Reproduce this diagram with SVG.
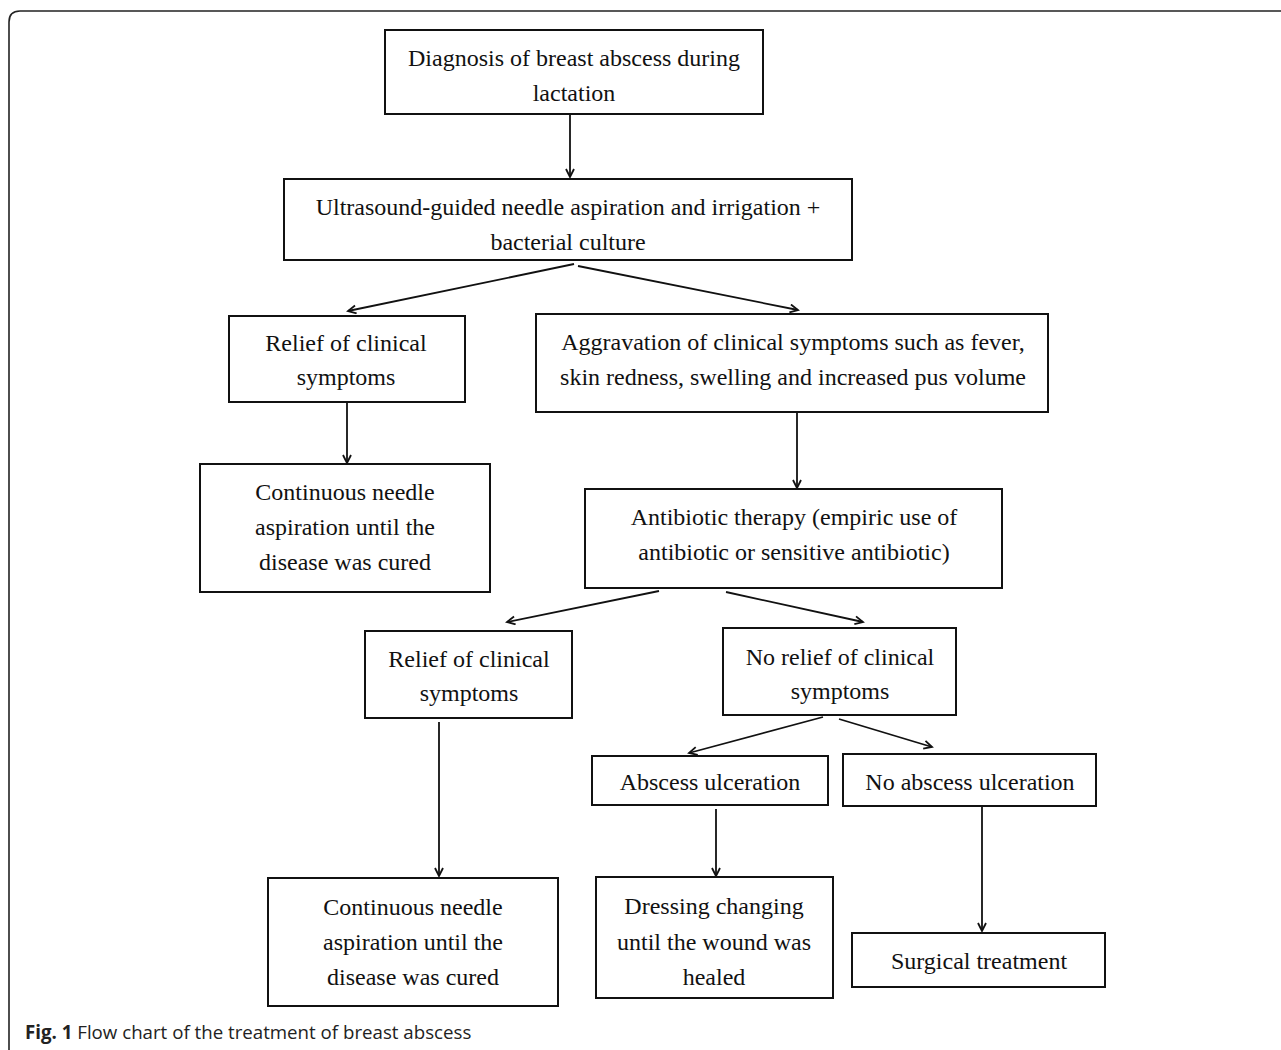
<svg xmlns="http://www.w3.org/2000/svg" width="1281" height="1050" viewBox="0 0 1281 1050">
<defs>
<style>
.box{fill:#fff;stroke:#111;stroke-width:2}
.t{font-family:"Liberation Serif","Times New Roman",serif;font-size:24px;fill:#111;text-anchor:middle}
.c{stroke:#111;stroke-width:1.8;fill:none;marker-end:url(#ah)}
.cap{font-family:"Open Sans","Noto Sans",sans-serif;font-size:18.7px;fill:#222}
</style>
<marker id="ah" markerUnits="userSpaceOnUse" markerWidth="12" markerHeight="12" refX="9" refY="5" orient="auto">
<path d="M1,1 L9,5 L1,9" fill="none" stroke="#111" stroke-width="1.8"/>
</marker>
</defs>
<rect width="1281" height="1050" fill="#fff"/>
<path d="M9,1050 L9,22 Q9,11 20,11 L1281,11" fill="none" stroke="#222" stroke-width="1.6"/>
<g id="connectors">
<line class="c" x1="570" y1="115" x2="570" y2="177"/>
<line class="c" x1="574" y1="264" x2="348" y2="311"/>
<line class="c" x1="578" y1="266" x2="798" y2="310"/>
<line class="c" x1="347" y1="403" x2="347" y2="463"/>
<line class="c" x1="797" y1="413" x2="797" y2="488"/>
<line class="c" x1="659" y1="591" x2="507" y2="622"/>
<line class="c" x1="726" y1="592" x2="863" y2="622"/>
<line class="c" x1="439" y1="722" x2="439" y2="876"/>
<line class="c" x1="823" y1="717" x2="689" y2="753"/>
<line class="c" x1="839" y1="719" x2="932" y2="747"/>
<line class="c" x1="716" y1="809" x2="716" y2="876"/>
<line class="c" x1="982" y1="807" x2="982" y2="931"/>
</g>
<g id="n1"><rect class="box" x="385" y="30" width="378" height="84"/>
<text class="t" x="574" y="66">Diagnosis of breast abscess during</text>
<text class="t" x="574" y="101">lactation</text></g>
<g id="n2"><rect class="box" x="284" y="179" width="568" height="81"/>
<text class="t" x="568" y="215">Ultrasound-guided needle aspiration and irrigation +</text>
<text class="t" x="568" y="250">bacterial culture</text></g>
<g id="n3"><rect class="box" x="229" y="316" width="236" height="86"/>
<text class="t" x="346" y="351">Relief of clinical</text>
<text class="t" x="346" y="385">symptoms</text></g>
<g id="n4"><rect class="box" x="536" y="314" width="512" height="98"/>
<text class="t" x="793" y="350">Aggravation of clinical symptoms such as fever,</text>
<text class="t" x="793" y="385">skin redness, swelling and increased pus volume</text></g>
<g id="n5"><rect class="box" x="200" y="464" width="290" height="128"/>
<text class="t" x="345" y="500">Continuous needle</text>
<text class="t" x="345" y="535">aspiration until the</text>
<text class="t" x="345" y="570">disease was cured</text></g>
<g id="n6"><rect class="box" x="585" y="489" width="417" height="99"/>
<text class="t" x="794" y="525">Antibiotic therapy (empiric use of</text>
<text class="t" x="794" y="560">antibiotic or sensitive antibiotic)</text></g>
<g id="n7"><rect class="box" x="365" y="631" width="207" height="87"/>
<text class="t" x="469" y="667">Relief of clinical</text>
<text class="t" x="469" y="701">symptoms</text></g>
<g id="n8"><rect class="box" x="723" y="628" width="233" height="87"/>
<text class="t" x="840" y="665">No relief of clinical</text>
<text class="t" x="840" y="699">symptoms</text></g>
<g id="n9"><rect class="box" x="592" y="756" width="236" height="49"/>
<text class="t" x="710" y="790">Abscess ulceration</text></g>
<g id="n10"><rect class="box" x="843" y="754" width="253" height="52"/>
<text class="t" x="970" y="790">No abscess ulceration</text></g>
<g id="n11"><rect class="box" x="268" y="878" width="290" height="128"/>
<text class="t" x="413" y="915">Continuous needle</text>
<text class="t" x="413" y="950">aspiration until the</text>
<text class="t" x="413" y="985">disease was cured</text></g>
<g id="n12"><rect class="box" x="596" y="877" width="237" height="121"/>
<text class="t" x="714" y="914">Dressing changing</text>
<text class="t" x="714" y="950">until the wound was</text>
<text class="t" x="714" y="985">healed</text></g>
<g id="n13"><rect class="box" x="852" y="933" width="253" height="54"/>
<text class="t" x="979" y="969">Surgical treatment</text></g>
<text class="cap" x="25" y="1039"><tspan font-weight="bold">Fig. 1</tspan> Flow chart of the treatment of breast abscess</text>
</svg>
